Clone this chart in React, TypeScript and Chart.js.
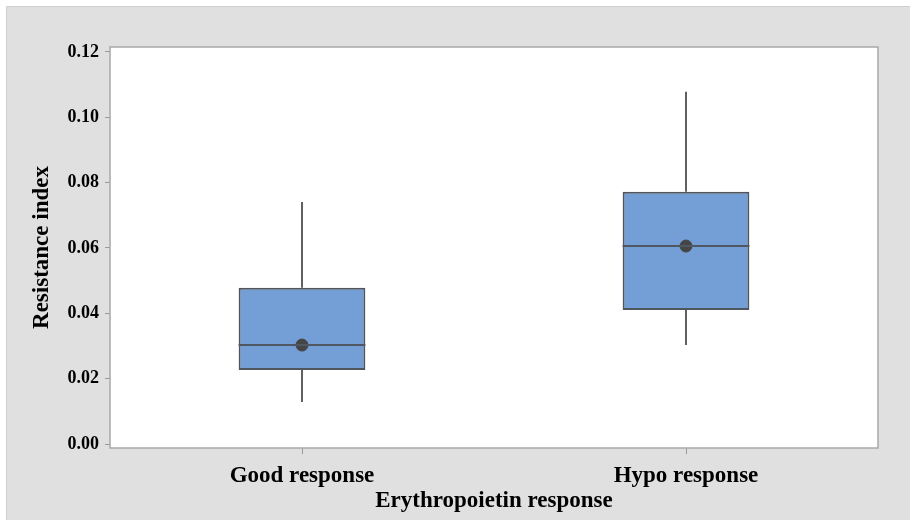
import React, { useEffect, useRef } from "react";
import { Chart, registerables } from "chart.js";
Chart.register(...registerables);

const categories = ["Good response", "Hypo response"];
const q1 = [0.0227, 0.041];
const q3 = [0.0478, 0.0772];
const medians = [0.0303, 0.0606];
const means = [0.0303, 0.0606];
const whiskerLow = [0.0129, 0.0303];
const whiskerHigh = [0.0741, 0.1078];
const yTicks = [0, 0.02, 0.04, 0.06, 0.08, 0.1, 0.12];

const FONT = "'Liberation Serif', 'Times New Roman', serif";

const bgPlugin = {
  id: "bgPlugin",
  beforeDraw(chart: any) {
    const { ctx, chartArea: a, width, height } = chart;
    ctx.save();
    ctx.fillStyle = "#ffffff";
    ctx.fillRect(0, 0, width, height);
    ctx.fillStyle = "#e0e0e0";
    ctx.fillRect(6, 6, width - 6, height - 6);
    ctx.strokeStyle = "#d0d0d0";
    ctx.lineWidth = 1;
    ctx.beginPath();
    ctx.moveTo(6.5, height);
    ctx.lineTo(6.5, 6.5);
    ctx.lineTo(width, 6.5);
    ctx.stroke();
    ctx.fillStyle = "#ffffff";
    ctx.fillRect(a.left, a.top, a.right - a.left, a.bottom - a.top);
    ctx.restore();
  },
  afterDraw(chart: any) {
    const { ctx, chartArea: a } = chart;
    ctx.save();
    ctx.strokeStyle = "#a8a8a8";
    ctx.lineWidth = 1.5;
    ctx.strokeRect(a.left, a.top, a.right - a.left, a.bottom - a.top);
    ctx.restore();
  },
};

const boxPlugin = {
  id: "boxPlugin",
  afterDatasetsDraw(chart: any) {
    const { ctx } = chart;
    const y = chart.scales.y;
    const meta = chart.getDatasetMeta(0);
    ctx.save();
    meta.data.forEach((bar: any, i: number) => {
      const x = bar.x;
      const half = bar.width / 2;
      ctx.strokeStyle = "#606060";
      ctx.lineWidth = 2;
      ctx.beginPath();
      ctx.moveTo(x, y.getPixelForValue(q3[i]));
      ctx.lineTo(x, y.getPixelForValue(whiskerHigh[i]));
      ctx.moveTo(x, y.getPixelForValue(q1[i]));
      ctx.lineTo(x, y.getPixelForValue(whiskerLow[i]));
      ctx.stroke();
      ctx.strokeStyle = "#4f5862";
      ctx.lineWidth = 2;
      ctx.beginPath();
      const my = y.getPixelForValue(medians[i]);
      ctx.moveTo(x - half, my);
      ctx.lineTo(x + half, my);
      ctx.stroke();
    });
    ctx.restore();
  },
};

export default function App() {
  const ref = useRef<HTMLCanvasElement>(null);
  useEffect(() => {
    document.body.style.margin = "0";
    const chart = new Chart(ref.current!, {
      type: "bar",
      data: {
        labels: categories,
        datasets: [
          {
            type: "bar",
            data: q1.map((v, i) => [v, q3[i]]) as any,
            backgroundColor: "#739fd6",
            borderColor: "#50565e",
            borderWidth: 2,
            borderSkipped: false,
            barPercentage: 0.33,
            categoryPercentage: 1,
          },
          {
            type: "line",
            data: means,
            showLine: false,
            pointRadius: 6,
            pointBackgroundColor: "#454545",
            pointBorderColor: "#454545",
            order: -1,
          } as any,
        ],
      },
      options: {
        animation: false,
        responsive: false,
        devicePixelRatio: 1,
        layout: { padding: { top: 47, right: 32, left: 0, bottom: 0 } },
        plugins: { legend: { display: false }, tooltip: { enabled: false } },
        scales: {
          x: {
            grid: { display: true, offset: false, drawOnChartArea: false, drawTicks: true, tickLength: 6, color: "#9a9a9a" },
            border: { display: false },
            ticks: { color: "#000", font: { family: FONT, size: 23, weight: "bold" }, padding: 8 },
            title: {
              display: true,
              text: "Erythropoietin response",
              color: "#000",
              font: { family: FONT, size: 23, weight: "bold" },
              padding: { top: 0, bottom: 5 },
            },
            afterFit: (s: any) => {
              s.height = 72;
            },
          },
          y: {
            min: -0.0012,
            max: 0.1215,
            afterBuildTicks: (s: any) => {
              s.ticks = yTicks.map((v) => ({ value: v }));
            },
            grid: { display: true, drawOnChartArea: false, drawTicks: true, tickLength: 5, color: "#9a9a9a" },
            border: { display: false },
            ticks: {
              color: "#000",
              font: { family: FONT, size: 18, weight: "bold" },
              padding: 6,
              callback: (v: any) => Number(v).toFixed(2),
            },
            title: {
              display: true,
              text: "Resistance index",
              color: "#000",
              font: { family: FONT, size: 23, weight: "bold" },
              padding: { top: 28, bottom: 0 },
            },
            afterFit: (s: any) => {
              s.width = 110;
            },
          },
        },
      },
      plugins: [bgPlugin, boxPlugin],
    });
    return () => chart.destroy();
  }, []);
  return <canvas ref={ref} width={910} height={520} style={{ display: "block" }} />;
}
